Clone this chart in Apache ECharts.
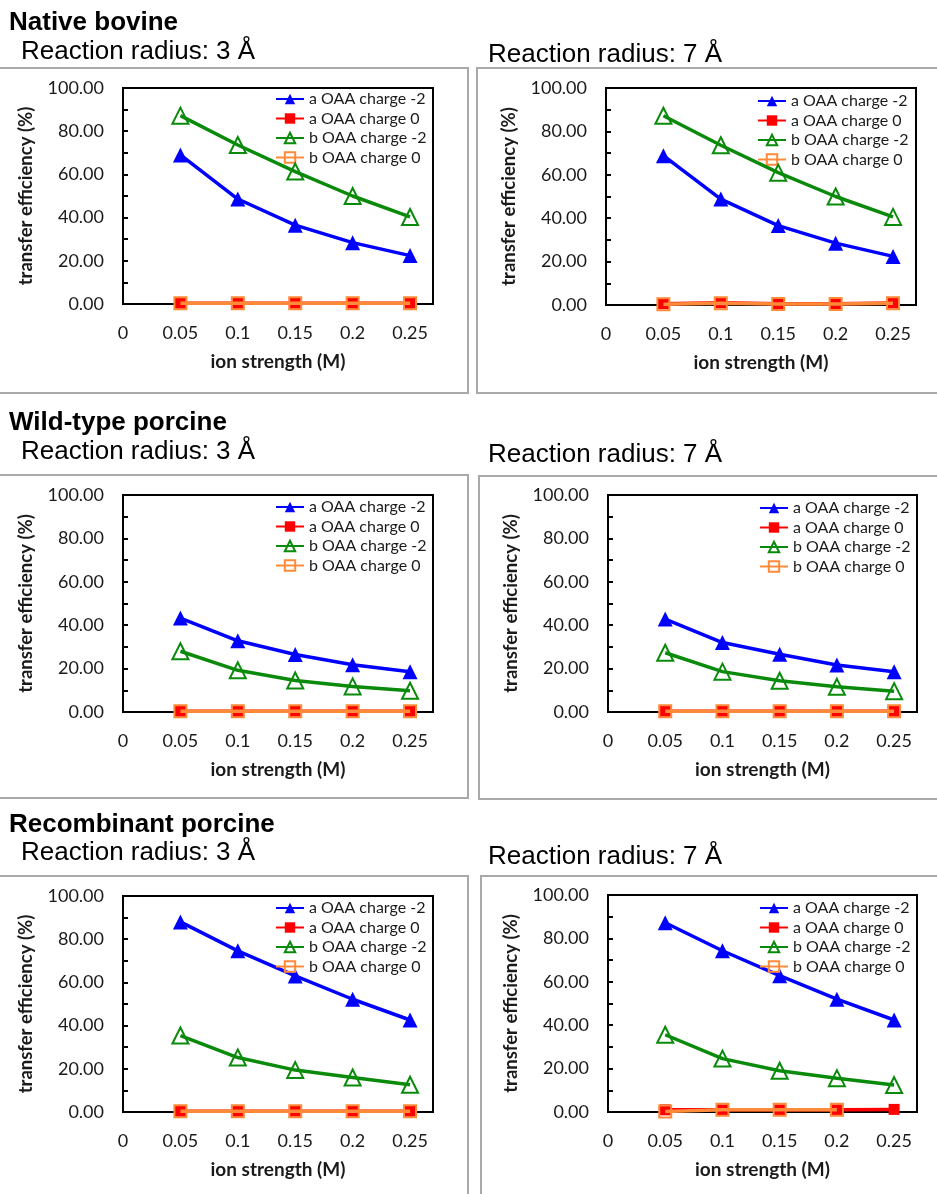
<!DOCTYPE html>
<html><head><meta charset="utf-8">
<script src="https://cdn.jsdelivr.net/npm/echarts@6/dist/echarts.min.js"></script>
<style>html,body{margin:0;padding:0;background:#fff}#c{width:937px;height:1194px}</style>
</head><body><div id="c"></div>
<script>
// ---------- data ----------
const xValues = [0.05, 0.1, 0.15, 0.2, 0.25];
const xTickLabels = ['0', '0.05', '0.1', '0.15', '0.2', '0.25'];
const yTickLabels = ['0.00', '20.00', '40.00', '60.00', '80.00', '100.00'];
const seriesNames = ['a OAA charge -2', 'a OAA charge 0', 'b OAA charge -2', 'b OAA charge 0'];
const groupTitles = ['Native bovine', 'Wild-type porcine', 'Recombinant porcine'];
const radiusTitles = ['Reaction radius: 3 Å', 'Reaction radius: 7 Å'];
const xAxisName = 'ion strength (M)';
const yAxisName = 'transfer efficiency (%)';

// Native bovine, 3 Å
const nativeR3_aM2 = [69.0, 48.6, 36.5, 28.4, 22.4];
const nativeR3_a0  = [0.3, 0.3, 0.3, 0.3, 0.3];
const nativeR3_bM2 = [87.2, 73.6, 61.3, 50.0, 40.3];
const nativeR3_b0  = [0.3, 0.3, 0.3, 0.3, 0.3];
// Native bovine, 7 Å
const nativeR7_aM2 = [68.8, 48.8, 36.6, 28.5, 22.4];
const nativeR7_a0  = [0.6, 1.0, 0.6, 0.6, 0.9];
const nativeR7_bM2 = [87.2, 73.6, 61.0, 50.0, 40.6];
const nativeR7_b0  = [0.4, 0.8, 0.5, 0.5, 0.8];
// Wild-type porcine, 3 Å
const wildR3_aM2 = [43.3, 32.8, 26.5, 21.8, 18.6];
const wildR3_a0  = [0.3, 0.3, 0.3, 0.3, 0.3];
const wildR3_bM2 = [28.0, 19.2, 14.5, 11.8, 9.8];
const wildR3_b0  = [0.3, 0.3, 0.3, 0.3, 0.3];
// Wild-type porcine, 7 Å
const wildR7_aM2 = [42.8, 32.0, 26.6, 21.7, 18.6];
const wildR7_a0  = [0.3, 0.3, 0.3, 0.3, 0.3];
const wildR7_bM2 = [27.3, 18.6, 14.4, 11.6, 9.6];
const wildR7_b0  = [0.3, 0.3, 0.3, 0.3, 0.3];
// Recombinant porcine, 3 Å
const recR3_aM2 = [88.0, 74.6, 63.0, 52.2, 42.6];
const recR3_a0  = [0.3, 0.3, 0.3, 0.3, 0.3];
const recR3_bM2 = [35.4, 25.2, 19.4, 16.0, 12.6];
const recR3_b0  = [0.3, 0.3, 0.3, 0.3, 0.3];
// Recombinant porcine, 7 Å
const recR7_aM2 = [87.2, 74.3, 62.8, 52.0, 42.4];
const recR7_a0  = [1.0, 1.0, 1.0, 1.0, 1.2];
const recR7_bM2 = [35.6, 24.6, 19.0, 15.6, 12.4];
const recR7_b0  = [0.2, 1.0, 1.0, 1.0, null];

const panelData = [
  [nativeR3_aM2, nativeR3_a0, nativeR3_bM2, nativeR3_b0],
  [nativeR7_aM2, nativeR7_a0, nativeR7_bM2, nativeR7_b0],
  [wildR3_aM2, wildR3_a0, wildR3_bM2, wildR3_b0],
  [wildR7_aM2, wildR7_a0, wildR7_bM2, wildR7_b0],
  [recR3_aM2, recR3_a0, recR3_bM2, recR3_b0],
  [recR7_aM2, recR7_a0, recR7_bM2, recR7_b0]
];

// ---------- layout / style ----------
const grids = [
  {left: 123, top: 88, width: 310, height: 216},
  {left: 606, top: 88, width: 310, height: 217},
  {left: 123, top: 495, width: 310, height: 217},
  {left: 608, top: 495, width: 309, height: 217},
  {left: 123, top: 896, width: 310, height: 216},
  {left: 608, top: 895, width: 309, height: 217}
];
const legendPos = [
  {left: 275, top: 91}, {left: 757, top: 93},
  {left: 275, top: 499}, {left: 759, top: 500},
  {left: 275, top: 900}, {left: 759, top: 900}
];
const boxes = [
  [-2, 68, 470, 325], [477, 68, 470, 325],
  [-2, 475, 470, 323], [479, 476, 470, 323],
  [-2, 876, 470, 330], [481, 876, 470, 330]
];
const BLUE = '#0000ff', RED = '#ff0000', GREEN = '#0a8a0a', ORANGE = '#ff8a3a';
const styles = [
  {color: BLUE, symbol: 'triangle', size: 15, fill: BLUE, bw: 0},
  {color: RED, symbol: 'rect', size: 11, fill: RED, bw: 0},
  {color: GREEN, symbol: 'triangle', size: 16, fill: 'rgba(255,255,255,0)', bw: 2},
  {color: ORANGE, symbol: 'rect', size: 12, fill: 'rgba(255,255,255,0)', bw: 2}
];
const FONT = 'Lato';
const TXT = '#1a1a1a';

const option = {
  animation: false,
  grid: [], xAxis: [], yAxis: [], series: [], legend: [], graphic: []
};

boxes.forEach(b => option.graphic.push({
  type: 'rect', z: -10, silent: true,
  shape: {x: b[0], y: b[1], width: b[2], height: b[3]},
  style: {fill: 'none', stroke: '#a9a9a9', lineWidth: 2}
}));

const titleRows = [[23, 52, 55], [423, 452, 455], [825, 853, 857]];
groupTitles.forEach((t, r) => {
  option.graphic.push({type: 'text', x: 9, y: titleRows[r][0], silent: true,
    style: {text: t, fontFamily: 'Liberation Sans', fontWeight: 'bold', fontSize: 26, fill: '#000', verticalAlign: 'middle'}});
  option.graphic.push({type: 'text', x: 21, y: titleRows[r][1], silent: true,
    style: {text: radiusTitles[0], fontFamily: 'Liberation Sans', fontSize: 26, fill: '#000', verticalAlign: 'middle'}});
  option.graphic.push({type: 'text', x: 488, y: titleRows[r][2], silent: true,
    style: {text: radiusTitles[1], fontFamily: 'Liberation Sans', fontSize: 26, fill: '#000', verticalAlign: 'middle'}});
});

grids.forEach((g, i) => {
  option.grid.push(Object.assign({show: true, borderColor: '#000', borderWidth: 2, backgroundColor: 'transparent'}, g));
  option.xAxis.push({
    gridIndex: i, type: 'value', min: 0, max: 0.27, interval: 0.05,
    axisLine: {show: true, onZero: false, lineStyle: {color: '#000', width: 2}},
    axisTick: {show: false}, splitLine: {show: false},
    axisLabel: {margin: 20, fontFamily: FONT, fontSize: 18, color: TXT,
      formatter: v => { const k = Math.round(v / 0.05); return (Math.abs(v - k * 0.05) < 1e-9 && k < xTickLabels.length) ? xTickLabels[k] : ''; }},
    name: xAxisName, nameLocation: 'middle', nameGap: 48,
    nameTextStyle: {fontFamily: FONT, fontWeight: 'bold', fontSize: 19, color: TXT}
  });
  option.yAxis.push({
    gridIndex: i, type: 'value', min: 0, max: 100, interval: 10,
    axisLine: {show: true, lineStyle: {color: '#000', width: 2}},
    axisTick: {show: true, inside: true, length: 5, lineStyle: {color: '#000', width: 2}},
    splitLine: {show: false},
    axisLabel: {margin: 19, fontFamily: FONT, fontSize: 18, color: TXT,
      formatter: v => (Math.round(v) % 20 === 0 ? yTickLabels[Math.round(v) / 20] : '')},
    name: yAxisName, nameLocation: 'middle', nameGap: 87, nameRotate: 90,
    nameTextStyle: {fontFamily: FONT, fontWeight: 'bold', fontSize: 18.5, color: TXT}
  });
  panelData[i].forEach((arr, s) => {
    const st = styles[s];
    option.series.push({
      type: 'line', name: seriesNames[s], xAxisIndex: i, yAxisIndex: i,
      data: xValues.map((x, k) => [x, arr[k]]),
      symbol: st.symbol, symbolSize: st.size, showSymbol: true, connectNulls: false,
      itemStyle: {color: st.fill, borderColor: st.color, borderWidth: st.bw},
      lineStyle: {color: st.color, width: 3.5},
      emphasis: {disabled: true}, z: 2 + s
    });
  });
  option.legend.push({
    data: seriesNames, orient: 'vertical', left: legendPos[i].left, top: legendPos[i].top,
    padding: 0, itemWidth: 28, itemHeight: 13, itemGap: 3.5, selectedMode: false,
    textStyle: {fontFamily: FONT, fontSize: 16, color: TXT}
  });
});

const chart = echarts.init(document.getElementById('c'), null, {renderer: 'canvas'});
chart.setOption(option);
</script>
</body></html>
